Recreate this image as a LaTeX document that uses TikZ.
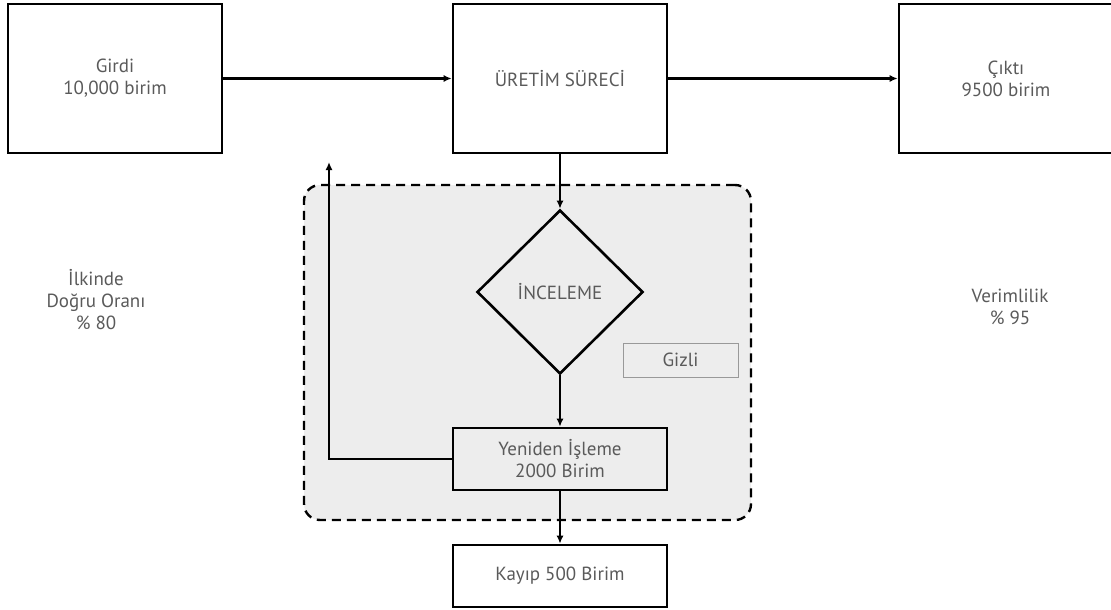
\documentclass[tikz,border=0pt]{standalone}
\usepackage{fontspec}
\setmainfont{PT Sans}
\usetikzlibrary{shapes.geometric}
\usetikzlibrary{arrows.meta}

\definecolor{yazi}{HTML}{5A5A5A}
\definecolor{bolgegri}{HTML}{EDEDED}

\begin{document}
\begin{tikzpicture}[x=1pt, y=-1pt,
    every node/.style={text=yazi, font=\fontsize{19}{22}\selectfont, align=center},
    kutu/.style={draw=black, line width=2.6pt, minimum width=214pt},
    akis/.style={line width=2.2pt, -{Latex[length=8pt, width=7pt]}}]

        % Page size
        \useasboundingbox (0, 0) rectangle (1111, 610);

        % Hidden area behind the inspection loop
        \node (bolge) at (527.5, 352.5) [draw=black, fill=bolgegri, line width=2.4pt,
            dash pattern=on 9pt off 6pt, rounded corners=16pt,
            minimum width=447pt, minimum height=335pt] {};

        % Top row
        \node (girdi) at (115, 78.5) [kutu, minimum height=149pt] {Girdi\\10,000 birim};
        \node (uretim) at (560, 78.5) [kutu, minimum height=149pt] {ÜRETİM SÜRECİ};
        \node (cikti) at (1006, 78.5) [kutu, minimum height=149pt] {Çıktı\\9500 birim};

        % Inspection and rework
        \node (karar) at (560, 292) [diamond, draw=black, line width=2.6pt,
            minimum width=166pt, minimum height=164pt, inner sep=0pt] {İNCELEME};
        \node (yeniden) at (560, 459) [kutu, minimum height=62pt] {Yeniden İşleme\\2000 Birim};
        \node (kayip) at (560, 576) [kutu, minimum height=62pt] {Kayıp 500 Birim};
        \node (gizli) at (680.5, 360) [draw=gray!80, line width=0.9pt,
            minimum width=115pt, minimum height=34pt] {Gizli};

        % Side figures
        \node (ilk) at (96, 300) {İlkinde\\Doğru Oranı\\\% 80};
        \node (verim) at (1010, 307) {Verimlilik\\\% 95};

        % Free end of the return line
        \coordinate (donus) at (329, 162);

        % Flow
        \draw[akis] (girdi) -- (uretim);
        \draw[akis] (uretim) -- (cikti);
        \draw[akis] (uretim) -- (karar);
        \draw[akis] (karar) -- (yeniden);
        \draw[akis] (yeniden) -- (kayip);
        \draw[akis] (yeniden.west) -| (donus);

      \end{tikzpicture}
\end{document}
